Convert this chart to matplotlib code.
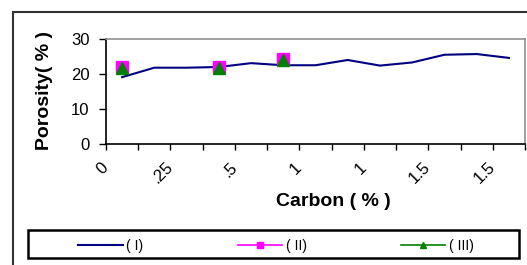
import numpy as np
import matplotlib
matplotlib.use('Agg')
import matplotlib.pyplot as plt
from matplotlib.patches import Rectangle

plt.rcParams['font.family'] = ['Liberation Sans', 'DejaVu Sans']

# 13 categories on the carbon axis, labels shown on every other one
n_cat = 13
tick_labels = ['0', '.25', '.5', '1', '1', '1.5', '1.5']

por_1 = [19.1, 21.8, 21.8, 22.0, 23.1, 22.5, 22.5, 24.0, 22.4, 23.3, 25.5, 25.7, 24.6]
por_2 = [22.0, None, None, 22.0, None, 24.3, None, None, None, None, None, None, None]
por_3 = [21.7, None, None, 21.7, None, 24.0, None, None, None, None, None, None, None]

series_names = ['( I)', '( II)', '( III)']

W, H = 527, 265
fig = plt.figure(figsize=(W / 100, H / 100), dpi=100)
ax = fig.add_axes([106 / W, 1 - 144 / H, 419 / W, 105 / H])

x = np.arange(n_cat)
y2 = np.array(por_2, dtype=float)
y3 = np.array(por_3, dtype=float)

ax.plot(x, por_1, color='#000080', lw=1.5, label=series_names[0], zorder=3)
ax.plot(x, y2, color='#FF00FF', lw=1.2, marker='s', markersize=8,
        markeredgecolor='#FF00FF', label=series_names[1], zorder=4)
ax.plot(x, y3, color='#008000', lw=1.2, marker='^', markersize=8.5,
        markeredgecolor='#008000', label=series_names[2], zorder=5)

ax.set_xlim(-0.5, n_cat - 0.5)
ax.set_ylim(0, 30)
ax.set_yticks([0, 10, 20, 30])

bounds = np.arange(n_cat + 1) - 0.5
ax.set_xticks(bounds[::2], labels=tick_labels)
ax.set_xticks(bounds[1::2], minor=True)
ax.tick_params(axis='x', which='both', direction='out', length=4, width=1, color='black')
ax.tick_params(axis='x', which='major', labelsize=12, pad=11)
for t in ax.get_xticklabels():
    t.set_rotation(45)
    t.set_rotation_mode('anchor')
    t.set_ha('right')
    t.set_va('center')
ax.tick_params(axis='y', direction='out', length=5, width=1, labelsize=12, pad=7)

for s in ['left', 'bottom']:
    ax.spines[s].set_color('black')
    ax.spines[s].set_linewidth(1.2)
for s in ['top', 'right']:
    ax.spines[s].set_color('#909090')
    ax.spines[s].set_linewidth(1.2)

ax.set_xlabel('Carbon ( % )', fontsize=14, fontweight='bold')
ax.xaxis.set_label_coords((333 - 106) / 419, -0.47)
ax.set_ylabel('Porosity( % )', fontsize=14, fontweight='bold')
ax.yaxis.set_label_coords(-0.127, 0.51)

# outer chart border (clipped at right/bottom like the original)
fig.add_artist(Rectangle((13 / W, -0.2), 1.0, 1 - 12 / H + 0.2, transform=fig.transFigure,
                         fill=False, ec='#333333', lw=1.5))

# legend box
fig.add_artist(Rectangle((28 / W, 1 - 258 / H), 491 / W, 28 / H, transform=fig.transFigure,
                         fill=False, ec='black', lw=1.8))
fig.legend(loc='center', bbox_to_anchor=(276 / W, 1 - 246 / H), ncol=3, frameon=False,
           fontsize=10, handlelength=3.2, handletextpad=0.25, columnspacing=6.8,
           markerscale=0.55, borderpad=0)

fig.savefig('out.png', dpi=100, facecolor='white')
